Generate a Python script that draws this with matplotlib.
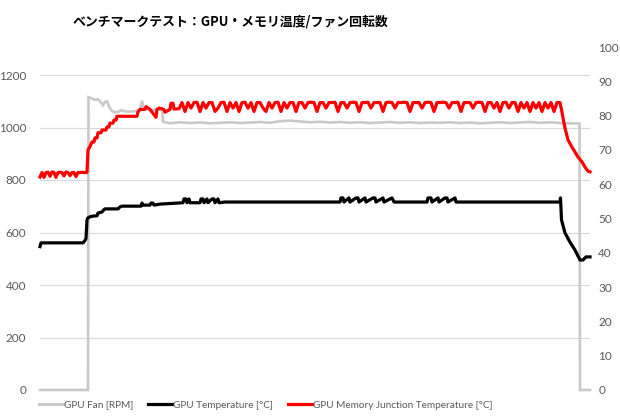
import numpy as np
import matplotlib
matplotlib.use("Agg")
import matplotlib.pyplot as plt
from matplotlib.lines import Line2D

title = "ベンチマークテスト：GPU・メモリ温度/ファン回転数"
series_names = ["GPU Fan [RPM]", "GPU Temperature [°C]", "GPU Memory Junction Temperature [°C]"]
fan_ticks = [0, 200, 400, 600, 800, 1000, 1200]
temp_ticks = [0, 10, 20, 30, 40, 50, 60, 70, 80, 90, 100]

# GPU Fan [RPM] (sample index, value)
fan_t = [0, 48, 48.5, 51, 55, 58, 60, 63, 65, 67, 69, 72, 75, 78, 82, 84, 88, 95, 100, 102, 104, 110, 122,
         123, 130, 140, 150, 160, 170, 180, 190, 200, 210, 220, 230, 240, 250, 260, 270, 280, 290, 300,
         310, 320, 330, 340, 350, 360, 370, 380, 390, 400, 410, 420, 430, 440, 450, 460, 470, 480, 490,
         500, 510, 520, 530, 539.5, 540, 550]
fan_v = [0, 0, 1115, 1112, 1105, 1108, 1100, 1085, 1098, 1100, 1080, 1062, 1058, 1060, 1066, 1062, 1060, 1062, 1068, 1102, 1072, 1068, 1068,
         1022, 1016, 1020, 1017, 1019, 1016, 1018, 1020, 1017, 1019, 1021, 1018, 1024, 1026, 1023, 1020, 1022, 1019, 1021,
         1018, 1020, 1017, 1019, 1021, 1018, 1020, 1017, 1019, 1018, 1020, 1017, 1019, 1016, 1018, 1020, 1017, 1019, 1021,
         1018, 1020, 1017, 1016, 1015, 0, 0]

# GPU Temperature [°C]
temp_t = [0, 1, 43, 45, 46, 47, 48, 50, 53, 57, 58, 62, 64, 65, 78, 80, 82, 101, 102, 103, 110, 111, 113, 114, 120,
          143, 144, 146, 147, 149, 150, 160, 161, 163, 164, 167, 168, 172, 174, 175, 178, 179, 185,
          300, 301, 303, 304, 309, 310, 316, 318, 319, 325, 326, 333, 335, 336, 343, 344, 352, 354,
          387, 388, 391, 392, 398, 399, 405, 407, 408, 415, 416,
          520, 520.5, 521.5, 525, 530, 535, 540, 543, 546, 550]
temp_v = [41.8, 42.9, 42.9, 43.6, 44.2, 49.6, 50.2, 50.5, 50.7, 50.8, 51.6, 51.9, 52.6, 52.8, 52.8, 53.4, 53.6, 53.6, 54.5, 53.9, 53.9, 54.5, 54.5, 53.9, 54.2,
          54.6, 55.7, 55.7, 54.6, 55.7, 54.6, 54.6, 55.7, 55.7, 54.6, 55.7, 54.6, 55.7, 55.7, 54.6, 55.7, 54.6, 54.8,
          54.8, 56.0, 56.0, 54.8, 56.0, 54.8, 56.0, 56.0, 54.8, 56.0, 54.8, 56.0, 56.0, 54.8, 56.0, 54.8, 56.0, 54.8,
          54.8, 56.0, 56.0, 54.8, 56.0, 54.8, 56.0, 56.0, 54.8, 56.0, 54.8,
          54.8, 56.0, 49.6, 45.8, 43.1, 40.8, 37.9, 37.9, 38.8, 38.8]

# GPU Memory Junction Temperature [°C]
mem_idle_t = np.arange(0, 47, 2)
mem_idle_v = [62.1, 63.4, 62.0, 63.4, 63.5, 62.3, 63.6, 63.4, 62.0, 63.4, 63.5, 63.4,
              62.4, 63.6, 63.4, 62.5, 63.4, 63.4, 62.2, 63.4, 63.4, 63.5, 63.4, 63.4]
mem_rise_t = [47, 48, 50, 52, 54, 55, 57, 58, 61, 62, 66, 67, 69, 70, 73, 74, 76, 77, 97, 98, 100,
              105, 106, 110, 116, 117, 119, 124, 125, 130, 131, 133, 134, 139]
mem_rise_v = [63.5, 70.0, 71.0, 72.3, 72.3, 73.5, 73.5, 75.0, 75.0, 75.8, 75.8, 76.7, 76.7, 77.8, 77.8, 78.7, 78.7, 79.8, 79.8, 81.1, 81.8,
              81.8, 82.6, 81.8, 79.5, 81.8, 82.2, 81.8, 81.0, 81.8, 83.6, 83.6, 81.9, 82.0]
mem_load_t = np.arange(142, 521, 3)
mem_load_v = [83.8, 81.2, 83.8, 82.2, 83.8, 83.9, 81.2, 83.8, 82.2, 83.8,
              83.8, 81.2, 82.2, 83.8, 83.9, 81.2, 83.8, 82.2, 83.8, 81.2,
              83.8, 83.9, 82.2, 83.8, 81.2, 83.8, 83.8, 82.2, 81.2, 83.8,
              82.2, 83.8, 83.9, 81.2, 83.8, 82.2, 83.8, 83.8, 81.2, 83.8,
              83.8, 82.2, 83.8, 83.9, 83.8, 81.2, 83.8, 83.8, 82.2, 83.8,
              83.8, 83.9, 81.2, 83.8, 83.8, 82.2, 83.8, 83.9, 83.8, 81.2,
              83.8, 83.8, 83.9, 82.2, 83.8, 83.8, 83.8, 81.2, 83.8, 83.9,
              83.8, 82.2, 83.8, 83.8, 83.9, 83.8, 81.2, 83.8, 83.8, 83.8,
              82.2, 83.8, 83.9, 83.8, 81.2, 83.8, 83.8, 83.9, 83.8, 82.2,
              83.8, 83.8, 83.9, 81.2, 83.8, 83.8, 83.8, 82.2, 83.8, 83.9,
              83.8, 81.2, 83.8, 83.8, 82.2, 83.8, 81.2, 83.8, 83.9, 82.2,
              83.8, 83.8, 81.2, 83.8, 82.2, 83.8, 81.2, 83.8, 82.2, 83.8,
              81.2, 83.8, 82.2, 83.8, 81.2, 83.8, 83.8]
mem_fall_t = [522, 523, 525, 528, 532, 535, 538, 542, 545, 548, 550]
mem_fall_v = [81.0, 79.3, 76.4, 72.9, 70.8, 69.4, 67.9, 66.5, 65.0, 63.8, 63.6]

mem_t = np.concatenate([mem_idle_t, mem_rise_t, mem_load_t, mem_fall_t])
mem_v = np.concatenate([mem_idle_v, mem_rise_v, mem_load_v, mem_fall_v])

FONT = ['Lato', 'Noto Sans CJK JP', 'DejaVu Sans']
plt.rcParams['font.family'] = FONT

W, H = 620, 420
fig = plt.figure(figsize=(W / 100, H / 100), dpi=100)
ax = fig.add_axes([40 / W, 30 / H, 550 / W, 343 / H])
ax2 = ax.twinx()

c_fan, c_temp, c_mem = '#c9c9c9', '#000000', '#ff0000'
ax.plot(fan_t, fan_v, color=c_fan, lw=1.9, clip_on=False, solid_joinstyle='miter', zorder=3)
ax2.plot(temp_t, temp_v, color=c_temp, lw=2.3, clip_on=False, zorder=3)
ax2.plot(mem_t, mem_v, color=c_mem, lw=2.3, clip_on=False, zorder=4)

ax.set_xlim(0, 550)
ax.set_ylim(0, 1200 * 343 / 315)
ax2.set_ylim(0, 100)
ax.set_xticks([])
ax.set_yticks(fan_ticks)
ax2.set_yticks(temp_ticks)
ax.grid(axis='y', color='#d9d9d9', lw=0.8)
ax.set_axisbelow(True)
for a in (ax, ax2):
    for s in a.spines.values():
        s.set_visible(False)
ax.tick_params(axis='y', length=0, pad=10, labelcolor='#595959', labelsize=8.5)
ax2.tick_params(axis='y', length=0, pad=6, labelcolor='#595959', labelsize=8.5)

fig.text(230 / W, 1 - 22 / H, title, ha='center', va='center', fontsize=9.3,
         fontweight='bold', family=['Noto Sans CJK JP', 'DejaVu Sans'], color='#000000')

handles = [Line2D([], [], color=c_fan, lw=2.3), Line2D([], [], color=c_temp, lw=2.3),
           Line2D([], [], color=c_mem, lw=2.3)]
fig.legend(handles, series_names, loc='center', bbox_to_anchor=(266 / W, 1 - 405 / H), ncol=3,
           frameon=False, fontsize=7.2, handlelength=2.4, handletextpad=0.1, columnspacing=1.5,
           labelcolor='#595959')

fig.savefig('out.png', dpi=100)
